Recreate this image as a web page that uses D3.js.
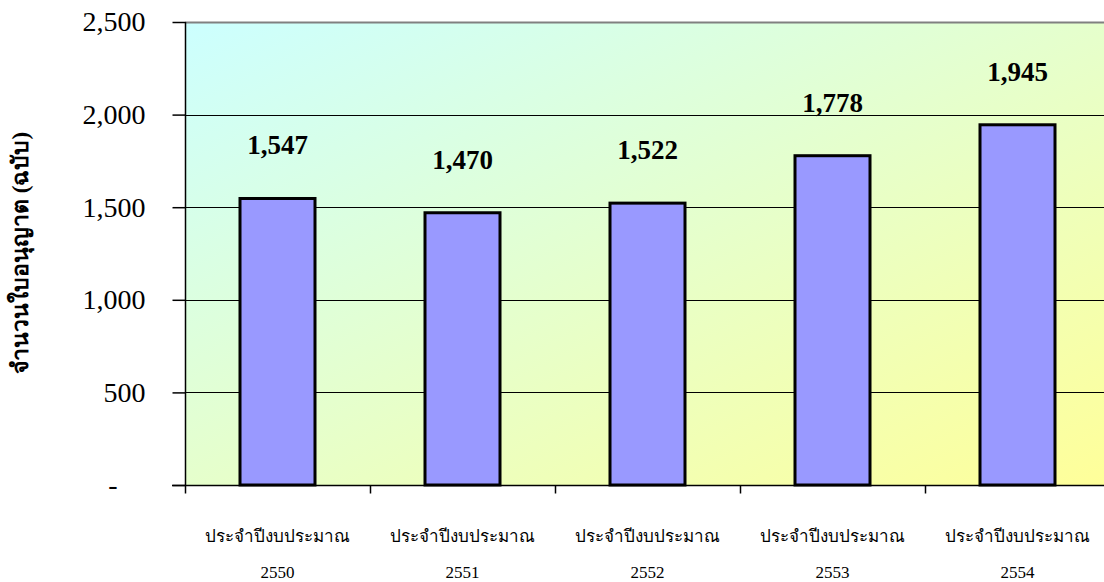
<!DOCTYPE html>
<html><head><meta charset="utf-8">
<script src="https://cdn.jsdelivr.net/npm/d3@7"></script>
<style>body{margin:0;background:#fff}svg{display:block}</style>
</head><body><svg id="c" width="1104" height="582"></svg>
<script>
const categories = ["2550","2551","2552","2553","2554"];
const categoryPrefix = "ประจำปีงบประมาณ";
const values = [1547,1470,1522,1778,1945];
const yTicks = [0,500,1000,1500,2000,2500];
const yTitle = "จำนวนใบอนุญาต (ฉบับ)";

const svg = d3.select("#c");
const m = {l:185, r:1110, t:22, b:485};
const x = d3.scaleBand().domain(categories).range([m.l, m.r]).paddingInner(0).paddingOuter(0);
const y = d3.scaleLinear().domain([0,2500]).range([m.b, m.t]);
const serif = "'Liberation Serif','Times New Roman',serif";

const defs = svg.append("defs");
const g = defs.append("linearGradient").attr("id","bg").attr("x1","0").attr("y1","0").attr("x2","1").attr("y2","1");
g.append("stop").attr("offset","0").attr("stop-color","#ccffff");
g.append("stop").attr("offset","1").attr("stop-color","#ffff99");

svg.append("rect").attr("x",m.l).attr("y",m.t).attr("width",m.r-m.l).attr("height",m.b-m.t).attr("fill","url(#bg)");
svg.append("line").attr("x1",m.l).attr("x2",m.r).attr("y1",m.t+0.5).attr("y2",m.t+0.5).attr("stroke","#808080").attr("stroke-width",2);

// gridlines
svg.append("g").selectAll("line").data(yTicks.filter(d=>d>0&&d<2500)).join("line")
  .attr("x1",m.l).attr("x2",m.r).attr("y1",d=>Math.round(y(d))+0.5).attr("y2",d=>Math.round(y(d))+0.5)
  .attr("stroke","#000").attr("stroke-width",1);

// y axis
const ya = svg.append("g").attr("transform",`translate(${m.l+0.5},0)`)
  .call(d3.axisLeft(y).tickValues(yTicks).tickSize(13).tickPadding(26)
    .tickFormat(d=> d===0 ? "-" : d3.format(",")(d)));
ya.select(".domain").attr("stroke","#000").attr("stroke-width",1.5).attr("d",`M0,${m.t}V${m.b}`);
ya.selectAll(".tick line").attr("stroke","#000").attr("stroke-width",1.5);
ya.selectAll(".tick text").attr("font-family",serif).attr("font-size",28).attr("fill","#000")
  .attr("x",-40).attr("dx", d=> d===0 ? -28 : 0);

// x axis
const xa = svg.append("g").attr("transform",`translate(0,${m.b+0.5})`);
xa.append("line").attr("x1",m.l-13).attr("x2",m.r).attr("y1",0).attr("y2",0).attr("stroke","#000").attr("stroke-width",1.5);
xa.selectAll("line.t").data(categories.concat(["end"])).join("line").attr("class","t")
  .attr("x1",(d,i)=>m.l+i*x.bandwidth()+0.5).attr("x2",(d,i)=>m.l+i*x.bandwidth()+0.5)
  .attr("y1",0).attr("y2",8).attr("stroke","#000").attr("stroke-width",1.5);
const lab = svg.append("g").selectAll("g").data(categories).join("g")
  .attr("transform",d=>`translate(${x(d)+x.bandwidth()/2},0)`);
lab.append("text").attr("y",542).attr("text-anchor","middle").attr("font-family",serif).attr("font-size",17).text(categoryPrefix);
lab.append("text").attr("y",578).attr("text-anchor","middle").attr("font-family",serif).attr("font-size",17).text(d=>d);

// bars
const bw = 75;
svg.append("g").selectAll("rect").data(values).join("rect")
  .attr("x",(d,i)=>x(categories[i])+x.bandwidth()/2-bw/2)
  .attr("y",d=>y(d)).attr("width",bw).attr("height",d=>y(0)-y(d))
  .attr("fill","#9999ff").attr("stroke","#000").attr("stroke-width",3);

// value labels
svg.append("g").selectAll("text").data(values).join("text")
  .attr("x",(d,i)=>x(categories[i])+x.bandwidth()/2)
  .attr("y",d=>y(d)-44).attr("text-anchor","middle")
  .attr("font-family",serif).attr("font-weight","bold").attr("font-size",27).text(d=>d3.format(",")(d));

// y title
svg.append("text").attr("transform","translate(28,253) rotate(-90)").attr("text-anchor","middle")
  .attr("font-family",serif).attr("font-weight","bold").attr("font-size",23).text(yTitle);
</script></body></html>
